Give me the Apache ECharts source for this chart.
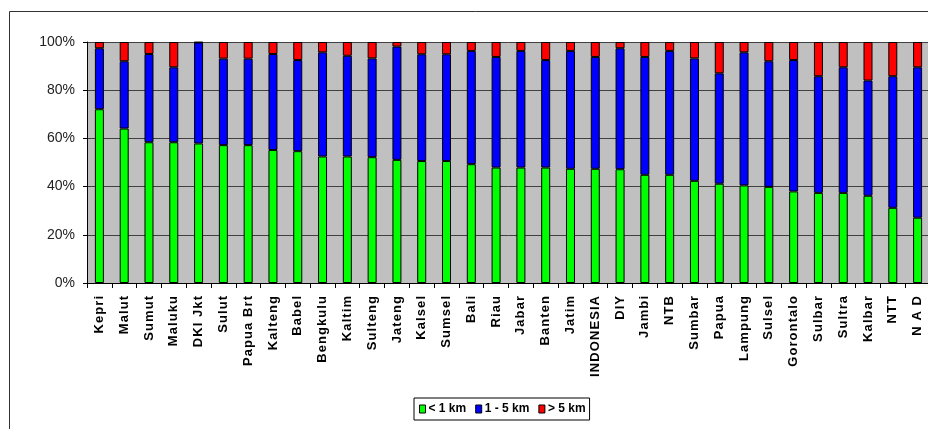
<!DOCTYPE html>
<html>
<head>
<meta charset="utf-8">
<script src="https://cdn.jsdelivr.net/npm/echarts@6/dist/echarts.min.js"></script>
<style>
  html, body { margin: 0; padding: 0; background: #fff; overflow: hidden; }
  #chart { width: 940px; height: 429px; }
</style>
</head>
<body>
<div id="chart"></div>
<script>
// Provinces, ordered by the share of households within 1 km
const provinces = ['Kepri', 'Malut', 'Sumut', 'Maluku', 'DKI Jkt', 'Sulut', 'Papua Brt', 'Kalteng',
  'Babel', 'Bengkulu', 'Kaltim', 'Sulteng', 'Jateng', 'Kalsel', 'Sumsel', 'Bali', 'Riau', 'Jabar',
  'Banten', 'Jatim', 'INDONESIA', 'DIY', 'Jambi', 'NTB', 'Sumbar', 'Papua', 'Lampung', 'Sulsel',
  'Gorontalo', 'Sulbar', 'Sultra', 'Kalbar', 'NTT', 'N A D'];

// Percentage shares per distance band
const under1km = [72.1, 64.1, 58.4, 58.4, 57.9, 57.2, 57.2, 55.2, 54.7, 52.5, 52.5, 52.2, 51.1, 50.6,
  50.6, 49.3, 47.9, 47.9, 47.9, 47.4, 47.4, 47.2, 44.9, 44.9, 42.4, 41.2, 40.5, 39.9, 38.0, 37.4,
  37.4, 36.2, 31.2, 27.1];
const from1to5km = [25.3, 27.9, 36.6, 31.1, 41.9, 35.9, 35.9, 39.8, 37.8, 43.2, 41.8, 41.0, 47.0, 44.3,
  44.3, 47.0, 45.9, 48.4, 44.6, 48.9, 46.4, 50.2, 48.9, 51.4, 50.8, 45.8, 55.2, 52.1, 54.5, 48.4,
  52.1, 47.8, 54.6, 62.4];
const over5km = [2.6, 8.0, 5.0, 10.5, 0.2, 6.9, 6.9, 5.0, 7.5, 4.3, 5.7, 6.8, 1.9, 5.1, 5.1, 3.7, 6.2,
  3.7, 7.5, 3.7, 6.2, 2.6, 6.2, 3.7, 6.8, 13.0, 4.3, 8.0, 7.5, 14.2, 10.5, 16.0, 14.2, 10.5];

const seriesNames = ['< 1 km', '1 - 5 km', '> 5 km'];
const yTicks = { min: 0, max: 100, step: 20 };

const chart = echarts.init(document.getElementById('chart'));
const spaced = s => s.split('').join('\u200A');

function band(name, data, color) {
  return {
    name, type: 'bar', stack: 'share', data, barWidth: 9,
    itemStyle: { color, borderColor: '#000', borderWidth: 1 },
    emphasis: { disabled: true }
  };
}

chart.setOption({
  animation: false,
  textStyle: { fontFamily: 'Arial, "Liberation Sans", sans-serif' },
  graphic: [{
    type: 'rect', silent: true, z: -1,
    shape: { x: 9.5, y: 11.5, width: 1000, height: 1000 },
    style: { fill: 'none', stroke: '#333', lineWidth: 1 }
  }],
  grid: {
    show: true, left: 87, top: 42, width: 843, height: 241,
    backgroundColor: '#C0C0C0', borderWidth: 0
  },
  legend: {
    left: 414, top: 398, orient: 'horizontal',
    padding: [5, 4, 5, 5], itemGap: 9, itemWidth: 6, itemHeight: 8,
    borderColor: '#000', borderWidth: 1,
    icon: 'rect',
    itemStyle: { borderColor: '#000', borderWidth: 1 },
    textStyle: { color: '#000', fontSize: 12, fontWeight: 'bold', padding: [0, 0, 0, -2] },
    data: seriesNames
  },
  xAxis: {
    type: 'category', data: provinces,
    axisLine: { lineStyle: { color: '#000', width: 1 } },
    axisTick: { show: true, interval: 0, length: 5, lineStyle: { color: '#000' } },
    axisLabel: {
      interval: 0, rotate: 90, margin: 13, color: '#000',
      fontSize: 13, fontWeight: 'bold', formatter: v => spaced(v)
    }
  },
  yAxis: {
    type: 'value', min: yTicks.min, max: yTicks.max, interval: yTicks.step,
    axisLine: { show: true, lineStyle: { color: '#000', width: 1 } },
    axisTick: { show: true, length: 4, lineStyle: { color: '#000' } },
    axisLabel: { margin: 12, color: '#222', fontSize: 14, formatter: '{value}%' },
    splitLine: { show: true, lineStyle: { color: '#404040', width: 1 } }
  },
  series: [
    band(seriesNames[0], under1km, '#00FF00'),
    band(seriesNames[1], from1to5km, '#0000FF'),
    band(seriesNames[2], over5km, '#FF0000')
  ]
});
</script>
</body>
</html>
